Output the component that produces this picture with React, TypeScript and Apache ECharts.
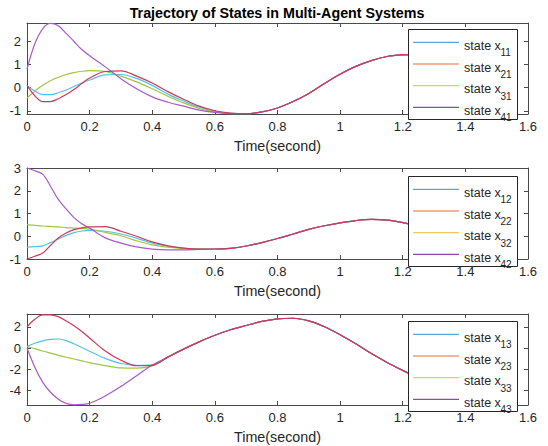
import React, { useEffect, useRef } from 'react';
import * as echarts from 'echarts';

// time samples (seconds)
const T = [0, 0.025, 0.05, 0.075, 0.1, 0.125, 0.15, 0.175, 0.2, 0.25, 0.3, 0.35, 0.4, 0.45, 0.5, 0.55, 0.6, 0.65, 0.7, 0.75, 0.8, 0.85, 0.9, 0.95, 1.0, 1.05, 1.1, 1.15, 1.2, 1.25, 1.3];

// subplot 1: t = 0 .. 0.65, then shared tail from 0.7
const x11Head = [0.1, -0.15, -0.3, -0.3, -0.22, -0.1, 0.05, 0.2, 0.33, 0.55, 0.57, 0.4, 0.1, -0.28, -0.58, -0.85, -1.03, -1.11];
const x21Head = [0.1, -0.35, -0.6, -0.6, -0.48, -0.3, -0.08, 0.18, 0.42, 0.7, 0.73, 0.5, 0.2, -0.17, -0.5, -0.8, -1.0, -1.1];
const x31Head = [-0.45, -0.15, 0.1, 0.3, 0.45, 0.57, 0.65, 0.71, 0.74, 0.7, 0.5, 0.25, -0.05, -0.37, -0.66, -0.9, -1.05, -1.12];
const x41Head = [0.8, 1.9, 2.55, 2.78, 2.68, 2.35, 2.0, 1.65, 1.38, 0.9, 0.39, -0.05, -0.4, -0.63, -0.8, -0.97, -1.07, -1.12];
const tail1 = [-1.13, -1.05, -0.88, -0.6, -0.25, 0.18, 0.58, 0.92, 1.17, 1.35, 1.42, 1.44, 1.38];

// subplot 2: t = 0 .. 0.55, then shared tail from 0.6
const x12Head = [-0.48, -0.46, -0.42, -0.28, -0.12, 0.04, 0.16, 0.23, 0.26, 0.22, 0.1, -0.08, -0.3, -0.43, -0.52, -0.56];
const x22Head = [-1.0, -0.88, -0.74, -0.4, -0.08, 0.14, 0.29, 0.37, 0.41, 0.42, 0.22, 0.0, -0.25, -0.42, -0.52, -0.56];
const x32Head = [0.51, 0.48, 0.45, 0.43, 0.41, 0.38, 0.36, 0.34, 0.31, 0.17, 0.02, -0.2, -0.38, -0.48, -0.54, -0.56];
const x42Head = [3.0, 2.88, 2.73, 2.2, 1.62, 1.2, 0.82, 0.55, 0.36, -0.07, -0.3, -0.47, -0.57, -0.6, -0.6, -0.58];
const tail2 = [-0.56, -0.53, -0.43, -0.28, -0.1, 0.1, 0.3, 0.46, 0.59, 0.69, 0.74, 0.71, 0.6, 0.45, 0.25];

// subplot 3: t = 0 .. 0.4, then shared tail from 0.45
const x13Head = [0.15, 0.45, 0.68, 0.82, 0.85, 0.7, 0.4, 0.05, -0.3, -0.97, -1.45, -1.62, -1.58];
const x23Head = [2.0, 2.7, 3.12, 3.12, 2.95, 2.55, 2.1, 1.55, 0.94, -0.28, -1.15, -1.66, -1.62];
const x33Head = [0.15, -0.05, -0.28, -0.48, -0.68, -0.86, -1.03, -1.2, -1.37, -1.65, -1.86, -1.88, -1.68];
const x43Head = [0.0, -1.8, -3.2, -4.15, -4.8, -5.2, -5.33, -5.3, -5.19, -4.5, -3.6, -2.6, -1.6];
const tail3 = [-0.85, -0.1, 0.58, 1.2, 1.72, 2.12, 2.5, 2.75, 2.8, 2.55, 2.0, 1.25, 0.4, -0.52, -1.35, -2.1, -2.8, -3.4];

const X_TICKS = { min: 0, max: 1.6, interval: 0.2 };
const Y1_TICKS = [-1, 0, 1, 2];
const Y2_TICKS = [-1, 0, 1, 2, 3];
const Y3_TICKS = [-4, -2, 0, 2];
const Y_RANGES = [[-1.14, 2.8], [-1, 3], [-5.35, 3.2]];

const TITLE = 'Trajectory of States in Multi-Agent Systems';
const X_NAME = 'Time(second)';
const LEGEND_PREFIX = 'state x';

const FONT = '"Liberation Sans", Arial, Helvetica, sans-serif';
const LINE_COLORS = ['#55c1ea', '#cc3b5b', '#9fc642', '#a85bc6'];
const LEGEND_COLORS = ['#5aa6e0', '#e3713c', '#f3c660', '#8c4aaa'];
const AXIS_COLOR = '#4a4a4a';
const TEXT_COLOR = '#262626';

const GRID_TOPS = [23, 168, 314];
const LEGEND_TOPS = [29, 176, 321];

const PLOTS = [
  { names: ['x11', 'x21', 'x31', 'x41'], values: [[...x11Head, ...tail1], [...x21Head, ...tail1], [...x31Head, ...tail1], [...x41Head, ...tail1]], ticks: Y1_TICKS },
  { names: ['x12', 'x22', 'x32', 'x42'], values: [[...x12Head, ...tail2], [...x22Head, ...tail2], [...x32Head, ...tail2], [...x42Head, ...tail2]], ticks: Y2_TICKS },
  { names: ['x13', 'x23', 'x33', 'x43'], values: [[...x13Head, ...tail3], [...x23Head, ...tail3], [...x33Head, ...tail3], [...x43Head, ...tail3]], ticks: Y3_TICKS },
];

function legendGraphics(names: string[], top: number) {
  const els: any[] = [];
  const left = 408;
  els.push({
    type: 'rect', z: 100, silent: true,
    shape: { x: left + 0.5, y: top + 0.5, width: 109, height: 90 },
    style: { fill: '#ffffff', stroke: '#262626', lineWidth: 1 },
  });
  names.forEach((n, k) => {
    const cy = top + 13.3 + k * 21.7;
    els.push({
      type: 'line', z: 101, silent: true,
      shape: { x1: left + 5, y1: cy, x2: left + 51, y2: cy },
      style: { stroke: LEGEND_COLORS[k], lineWidth: 1.2 },
    });
    els.push({
      type: 'text', z: 101, silent: true, x: left + 56, y: cy + 3.5,
      style: { text: LEGEND_PREFIX, fill: TEXT_COLOR, fontSize: 12.5, fontFamily: FONT, align: 'left', verticalAlign: 'middle' },
    });
    els.push({
      type: 'text', z: 101, silent: true, x: left + 92.5, y: cy + 10.5,
      style: { text: n.slice(1), fill: TEXT_COLOR, fontSize: 10, fontFamily: FONT, align: 'left', verticalAlign: 'middle' },
    });
  });
  return els;
}

function buildOption() {
  const grid: any[] = [];
  const xAxis: any[] = [];
  const yAxis: any[] = [];
  const series: any[] = [];
  const graphic: any[] = [];
  const axisLine = { show: true, onZero: false, lineStyle: { color: AXIS_COLOR, width: 1 } };
  const axisTick = { show: true, inside: true, length: 4, lineStyle: { color: AXIS_COLOR, width: 1 } };
  const labelStyle = { color: TEXT_COLOR, fontSize: 13, fontFamily: FONT };

  graphic.push({
    type: 'text', x: 277, y: 13, z: 100,
    style: { text: TITLE, fill: '#000000', fontSize: 14.3, fontWeight: 'bold', fontFamily: FONT, align: 'center', verticalAlign: 'middle' },
  });

  PLOTS.forEach((p, i) => {
    grid.push({ left: 27, width: 501, top: GRID_TOPS[i], height: 91, outerBoundsMode: 'none', containLabel: false });
    xAxis.push({
      gridIndex: i, type: 'value', ...X_TICKS, position: 'bottom',
      axisLine, axisTick, splitLine: { show: false },
      axisLabel: { ...labelStyle, margin: 6 },
      name: X_NAME, nameLocation: 'middle', nameGap: 25,
      nameTextStyle: { ...labelStyle, fontSize: 14.3 },
    });
    xAxis.push({
      gridIndex: i, type: 'value', ...X_TICKS, position: 'top',
      axisLine, axisTick, splitLine: { show: false }, axisLabel: { show: false },
    });
    const [ymin, ymax] = Y_RANGES[i];
    yAxis.push({
      gridIndex: i, type: 'value', min: ymin, max: ymax, position: 'left',
      axisLine, axisTick: { ...axisTick, customValues: p.ticks }, splitLine: { show: false },
      axisLabel: { ...labelStyle, margin: 6, customValues: p.ticks },
    });
    yAxis.push({
      gridIndex: i, type: 'value', min: ymin, max: ymax, position: 'right',
      axisLine, axisTick: { ...axisTick, customValues: p.ticks }, splitLine: { show: false },
      axisLabel: { show: false, customValues: p.ticks },
    });
    // draw order: 1,3,4 then 2 on top
    [0, 2, 3, 1].forEach((k) => {
      series.push({
        type: 'line', name: p.names[k], xAxisIndex: 2 * i, yAxisIndex: 2 * i,
        data: T.map((t, j) => [t, p.values[k][j]]),
        symbol: 'none', showSymbol: false, smooth: 0.35, clip: true,
        lineStyle: { color: LINE_COLORS[k], width: 1.2 },
        itemStyle: { color: LINE_COLORS[k] },
        emphasis: { disabled: true },
      });
    });
    graphic.push(...legendGraphics(p.names, LEGEND_TOPS[i]));
  });

  return {
    animation: false,
    backgroundColor: '#ffffff',
    graphic,
    grid, xAxis, yAxis, series,
  };
}

export default function App() {
  const ref = useRef<HTMLDivElement>(null);
  useEffect(() => {
    if (!ref.current) return;
    const chart = echarts.init(ref.current, null, { renderer: 'svg' });
    chart.setOption(buildOption() as any);
    return () => chart.dispose();
  }, []);
  return <div ref={ref} style={{ position: 'fixed', left: 0, top: 0, width: 548, height: 446, background: '#fff' }} />;
}
